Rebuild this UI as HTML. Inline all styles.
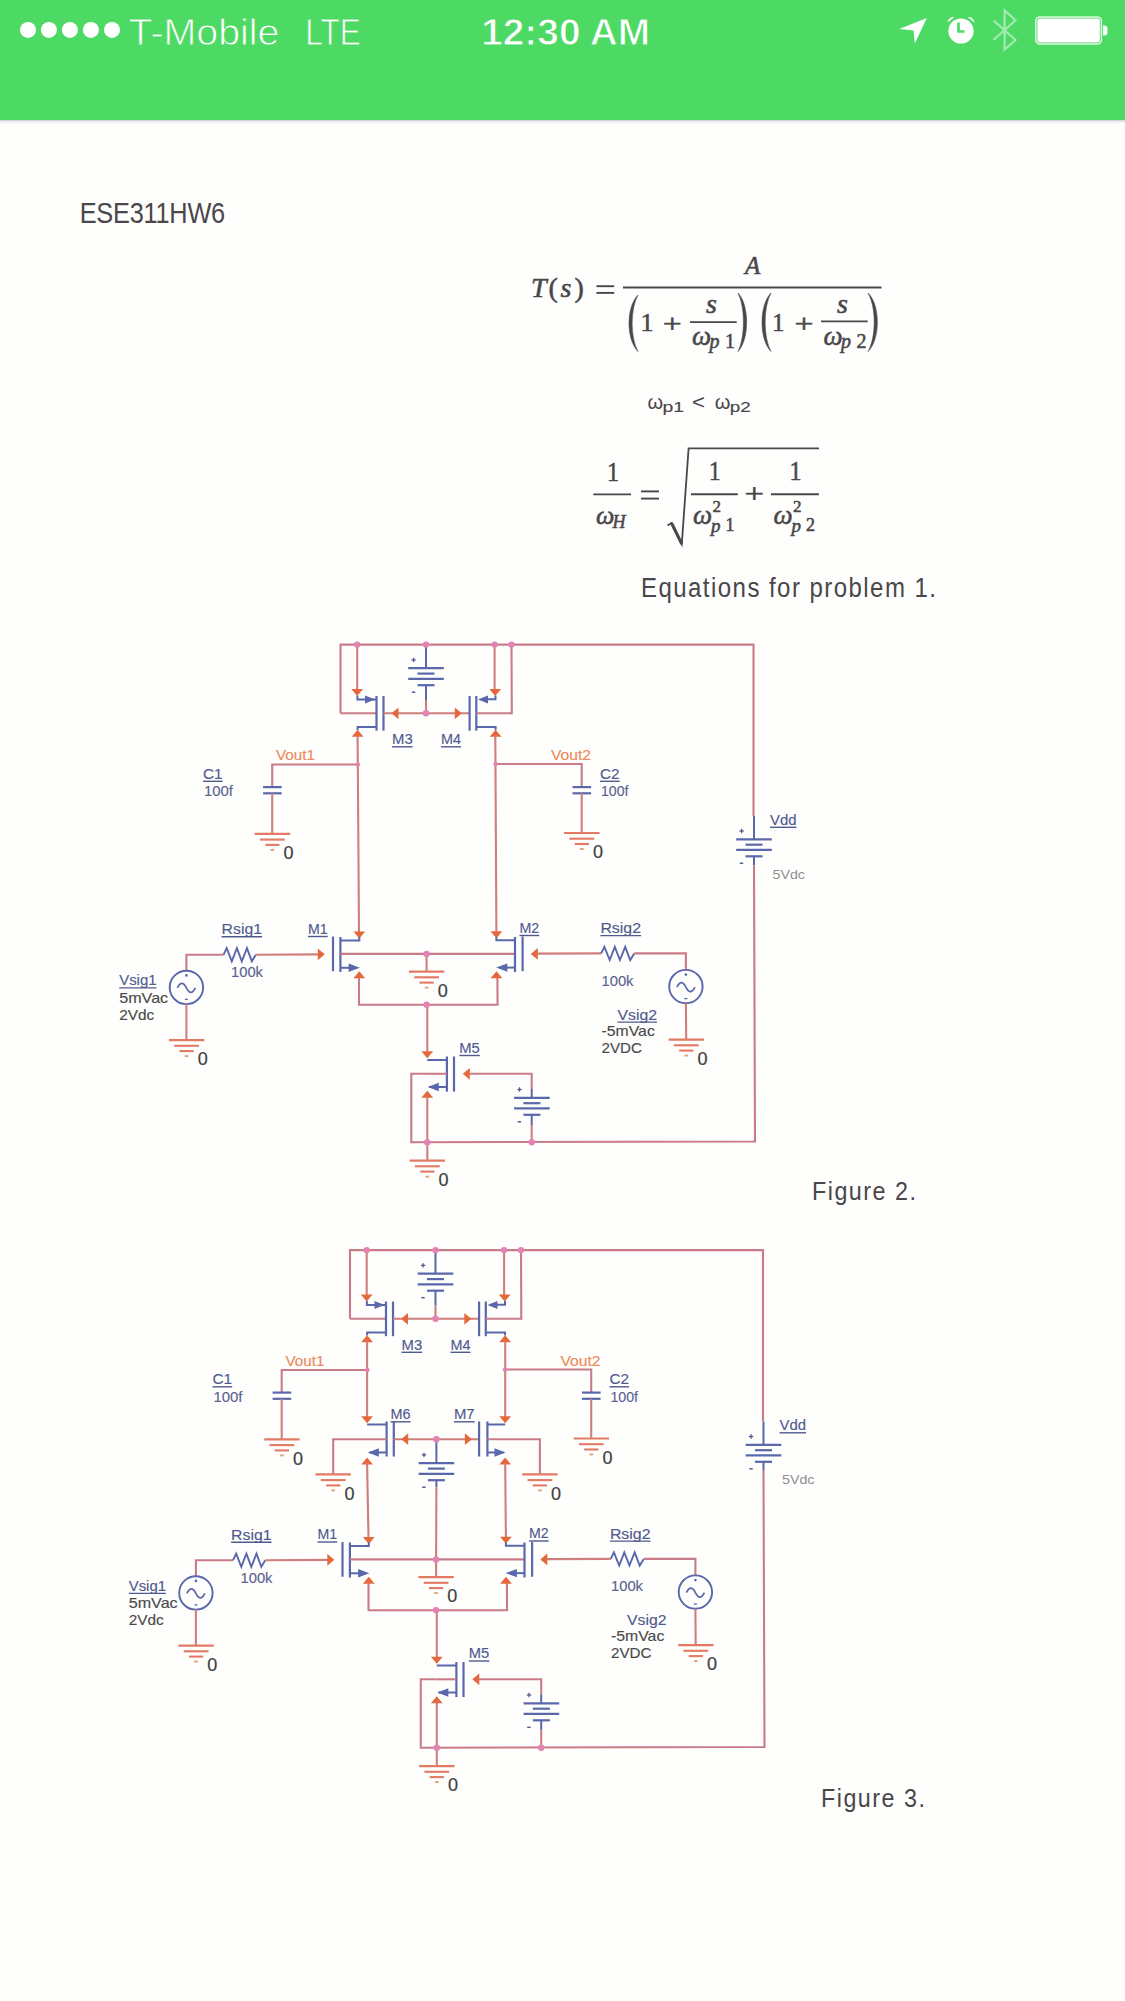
<!DOCTYPE html>
<html><head><meta charset="utf-8">
<style>
html,body{margin:0;padding:0;background:#fefefd;}
body{width:1125px;height:2001px;overflow:hidden;position:relative;font-family:"Liberation Sans",sans-serif;}
svg{position:absolute;left:0;top:0;}
</style></head><body>
<svg width="1125" height="2001" viewBox="0 0 1125 2001">
<g transform="translate(0,0)">
<polyline points="340.5,713.3 340.5,644.6 753.5,644.6 753.5,816" fill="none" stroke="#c97c88" stroke-width="2.1" stroke-linejoin="miter"/>
<line x1="754" y1="816" x2="754" y2="839.3" stroke="#5a67aa" stroke-width="2"/>
<line x1="736.2" y1="839.3" x2="771.8" y2="839.3" stroke="#5a67aa" stroke-width="2.2"/>
<line x1="745.5" y1="844.7" x2="762.5" y2="844.7" stroke="#5a67aa" stroke-width="2.2"/>
<line x1="736.2" y1="849.9" x2="771.8" y2="849.9" stroke="#5a67aa" stroke-width="2.2"/>
<line x1="745.5" y1="856.3" x2="762.5" y2="856.3" stroke="#5a67aa" stroke-width="2.2"/>
<line x1="739.4" y1="831" x2="743.8" y2="831" stroke="#4f5a8e" stroke-width="1.3"/>
<line x1="741.6" y1="828.8" x2="741.6" y2="833.2" stroke="#4f5a8e" stroke-width="1.3"/>
<line x1="739.8" y1="863.3" x2="743.2" y2="863.3" stroke="#4f5a8e" stroke-width="1.5"/>
<line x1="754" y1="856.3" x2="754" y2="865.3" stroke="#5a67aa" stroke-width="2"/>
<polyline points="754,865.3 755,1141.5 411.3,1142.2 411.3,1073.8 427,1073.8" fill="none" stroke="#c97c88" stroke-width="2.1" stroke-linejoin="miter"/>
<text x="770" y="824.7" font-family="Liberation Sans" font-size="15" fill="#4f5a8e" text-anchor="start" textLength="26.5" lengthAdjust="spacingAndGlyphs"  stroke="#4f5a8e" stroke-width="0.15">Vdd</text>
<line x1="770" y1="827.3" x2="796.5" y2="827.3" stroke="#4f5a8e" stroke-width="1.4"/>
<text x="772.5" y="878.5" font-family="Liberation Sans" font-size="13.5" fill="#8f8f8f" text-anchor="start" textLength="32.5" lengthAdjust="spacingAndGlyphs" stroke="none">5Vdc</text>
<line x1="340.5" y1="713.3" x2="376.5" y2="713.3" stroke="#c97c88" stroke-width="2.1"/>
<line x1="376.5" y1="696" x2="376.5" y2="730.7" stroke="#5a67aa" stroke-width="2.2"/>
<line x1="383.5" y1="696" x2="383.5" y2="730.7" stroke="#5a67aa" stroke-width="2.2"/>
<line x1="357.2" y1="644.6" x2="357.2" y2="691" stroke="#cf7e7c" stroke-width="2.1"/>
<polygon points="357.2,696 351.3,689 363.1,689" fill="#e5683c"/>
<polyline points="357.4,695.5 357.4,699.4 376.5,699.4" fill="none" stroke="#5a67aa" stroke-width="2" stroke-linejoin="miter"/>
<polygon points="375,699.5 365,695.5 365,703.5" fill="#5a67aa"/>
<polyline points="376.5,727 357.6,727 357.6,730" fill="none" stroke="#5a67aa" stroke-width="2" stroke-linejoin="miter"/>
<polygon points="357.6,729.7 351.7,736.7 363.5,736.7" fill="#e5683c"/>
<text x="392" y="744.2" font-family="Liberation Sans" font-size="15" fill="#4f5a8e" text-anchor="start" textLength="20.7" lengthAdjust="spacingAndGlyphs"  stroke="#4f5a8e" stroke-width="0.15">M3</text>
<line x1="392" y1="746.8" x2="412.7" y2="746.8" stroke="#4f5a8e" stroke-width="1.4"/>
<line x1="383.5" y1="713.3" x2="469.6" y2="713.3" stroke="#cf7e7c" stroke-width="2.1"/>
<polygon points="391.5,713.3 398.5,707.4 398.5,719.2" fill="#e5683c"/>
<polygon points="461.8,713.3 454.8,707.4 454.8,719.2" fill="#e5683c"/>
<line x1="426" y1="644.6" x2="426" y2="668.2" stroke="#5a67aa" stroke-width="2"/>
<line x1="408.2" y1="668.2" x2="443.8" y2="668.2" stroke="#5a67aa" stroke-width="2.2"/>
<line x1="417.5" y1="673.6" x2="434.5" y2="673.6" stroke="#5a67aa" stroke-width="2.2"/>
<line x1="408.2" y1="678.8" x2="443.8" y2="678.8" stroke="#5a67aa" stroke-width="2.2"/>
<line x1="417.5" y1="685.2" x2="434.5" y2="685.2" stroke="#5a67aa" stroke-width="2.2"/>
<line x1="411.4" y1="659.9" x2="415.8" y2="659.9" stroke="#4f5a8e" stroke-width="1.3"/>
<line x1="413.6" y1="657.7" x2="413.6" y2="662.1" stroke="#4f5a8e" stroke-width="1.3"/>
<line x1="411.8" y1="692.2" x2="415.2" y2="692.2" stroke="#4f5a8e" stroke-width="1.5"/>
<line x1="426" y1="685.2" x2="426" y2="700" stroke="#5a67aa" stroke-width="2"/>
<line x1="426" y1="700" x2="426" y2="713.3" stroke="#cf7e7c" stroke-width="2.1"/>
<line x1="469.6" y1="696" x2="469.6" y2="730.7" stroke="#5a67aa" stroke-width="2.2"/>
<line x1="476.3" y1="696" x2="476.3" y2="730.7" stroke="#5a67aa" stroke-width="2.2"/>
<line x1="494.6" y1="644.6" x2="494.6" y2="691" stroke="#cf7e7c" stroke-width="2.1"/>
<polygon points="495.2,696 489.3,689 501.1,689" fill="#e5683c"/>
<polyline points="484,699.3 495.5,699.3 495.5,695.5" fill="none" stroke="#5a67aa" stroke-width="2" stroke-linejoin="miter"/>
<polygon points="478,699.5 488,695.5 488,703.5" fill="#5a67aa"/>
<polyline points="476.3,713.3 511.8,713.3 511.5,644.6" fill="none" stroke="#c97c88" stroke-width="2.1" stroke-linejoin="miter"/>
<polyline points="476.3,727 495.6,727 495.6,730" fill="none" stroke="#5a67aa" stroke-width="2" stroke-linejoin="miter"/>
<polygon points="495.6,729.7 489.7,736.7 501.5,736.7" fill="#e5683c"/>
<text x="441" y="744.2" font-family="Liberation Sans" font-size="15" fill="#4f5a8e" text-anchor="start" textLength="20" lengthAdjust="spacingAndGlyphs"  stroke="#4f5a8e" stroke-width="0.15">M4</text>
<line x1="441" y1="746.8" x2="461" y2="746.8" stroke="#4f5a8e" stroke-width="1.4"/>
<polyline points="357.8,764.5 272.2,764.5 272.2,787.1" fill="none" stroke="#c97c88" stroke-width="2.1" stroke-linejoin="miter"/>
<line x1="263.1" y1="787.1" x2="281.7" y2="787.1" stroke="#5a67aa" stroke-width="2.2"/>
<line x1="263.1" y1="793.3" x2="281.7" y2="793.3" stroke="#5a67aa" stroke-width="2.2"/>
<line x1="272.2" y1="793.3" x2="272.2" y2="833.3" stroke="#cf7e7c" stroke-width="2.1"/>
<line x1="254.7" y1="833.9" x2="290.1" y2="833.9" stroke="#e27a64" stroke-width="2.1"/>
<line x1="260" y1="839.6" x2="284.8" y2="839.6" stroke="#e27a64" stroke-width="2.1"/>
<line x1="265.3" y1="844.9" x2="279.5" y2="844.9" stroke="#e27a64" stroke-width="2.1"/>
<line x1="270.6" y1="849.9" x2="274.2" y2="849.9" stroke="#e0a070" stroke-width="1.9"/>
<text x="283.6" y="859.1" font-family="Liberation Sans" font-size="18" fill="#3e3e3e" text-anchor="start" stroke="#3e3e3e" stroke-width="0.2">0</text>
<text x="276" y="760.2" font-family="Liberation Sans" font-size="15" fill="#ec8a5a" text-anchor="start" textLength="39" lengthAdjust="spacingAndGlyphs"  stroke="#ec8a5a" stroke-width="0.15">Vout1</text>
<text x="203" y="778.7" font-family="Liberation Sans" font-size="15" fill="#4f5a8e" text-anchor="start" textLength="19.7" lengthAdjust="spacingAndGlyphs"  stroke="#4f5a8e" stroke-width="0.15">C1</text>
<line x1="203" y1="781.3" x2="222.7" y2="781.3" stroke="#4f5a8e" stroke-width="1.4"/>
<text x="204" y="796" font-family="Liberation Sans" font-size="15" fill="#5b6290" text-anchor="start" textLength="29" lengthAdjust="spacingAndGlyphs"  stroke="#5b6290" stroke-width="0.15">100f</text>
<polyline points="495.6,764 581.7,764 581.7,787.1" fill="none" stroke="#c97c88" stroke-width="2.1" stroke-linejoin="miter"/>
<line x1="572.5" y1="787.1" x2="591.1" y2="787.1" stroke="#5a67aa" stroke-width="2.2"/>
<line x1="572.5" y1="793.3" x2="591.1" y2="793.3" stroke="#5a67aa" stroke-width="2.2"/>
<line x1="581.7" y1="793.3" x2="581.7" y2="832.4" stroke="#cf7e7c" stroke-width="2.1"/>
<line x1="564.1" y1="833" x2="599.5" y2="833" stroke="#e27a64" stroke-width="2.1"/>
<line x1="569.4" y1="838.7" x2="594.2" y2="838.7" stroke="#e27a64" stroke-width="2.1"/>
<line x1="574.7" y1="844" x2="588.9" y2="844" stroke="#e27a64" stroke-width="2.1"/>
<line x1="580" y1="849" x2="583.6" y2="849" stroke="#e0a070" stroke-width="1.9"/>
<text x="593" y="858.2" font-family="Liberation Sans" font-size="18" fill="#3e3e3e" text-anchor="start" stroke="#3e3e3e" stroke-width="0.2">0</text>
<text x="551" y="760" font-family="Liberation Sans" font-size="15" fill="#ec8a5a" text-anchor="start" textLength="40" lengthAdjust="spacingAndGlyphs"  stroke="#ec8a5a" stroke-width="0.15">Vout2</text>
<text x="600" y="778.7" font-family="Liberation Sans" font-size="15" fill="#4f5a8e" text-anchor="start" textLength="19.6" lengthAdjust="spacingAndGlyphs"  stroke="#4f5a8e" stroke-width="0.15">C2</text>
<line x1="600" y1="781.3" x2="619.6" y2="781.3" stroke="#4f5a8e" stroke-width="1.4"/>
<text x="601" y="796" font-family="Liberation Sans" font-size="15" fill="#5b6290" text-anchor="start" textLength="27.5" lengthAdjust="spacingAndGlyphs"  stroke="#5b6290" stroke-width="0.15">100f</text>
<line x1="357.6" y1="735.5" x2="359" y2="933" stroke="#cf7e7c" stroke-width="2.1"/>
<line x1="495.3" y1="735.5" x2="496.4" y2="933" stroke="#cf7e7c" stroke-width="2.1"/>
<line x1="333" y1="936.6" x2="333" y2="971.2" stroke="#5a67aa" stroke-width="2.2"/>
<line x1="340.4" y1="937" x2="340.4" y2="972" stroke="#5a67aa" stroke-width="2.2"/>
<polygon points="359.3,938.4 353.4,931.4 365.2,931.4" fill="#e5683c"/>
<polyline points="340.4,940.4 359.3,940.4 359.3,937" fill="none" stroke="#5a67aa" stroke-width="2" stroke-linejoin="miter"/>
<line x1="340.4" y1="953.9" x2="515" y2="953.9" stroke="#c97c88" stroke-width="2.1"/>
<line x1="426.6" y1="953.9" x2="426.6" y2="971" stroke="#cf7e7c" stroke-width="2.1"/>
<line x1="408.9" y1="971.6" x2="444.3" y2="971.6" stroke="#e27a64" stroke-width="2.1"/>
<line x1="414.2" y1="977.3" x2="439" y2="977.3" stroke="#e27a64" stroke-width="2.1"/>
<line x1="419.5" y1="982.6" x2="433.7" y2="982.6" stroke="#e27a64" stroke-width="2.1"/>
<line x1="424.8" y1="987.6" x2="428.4" y2="987.6" stroke="#e0a070" stroke-width="1.9"/>
<text x="437.8" y="996.8" font-family="Liberation Sans" font-size="18" fill="#3e3e3e" text-anchor="start" stroke="#3e3e3e" stroke-width="0.2">0</text>
<line x1="340.4" y1="967.8" x2="350" y2="967.8" stroke="#5a67aa" stroke-width="2"/>
<polygon points="359.8,967.8 348.6,963.6 348.6,972" fill="#5a67aa"/>
<polygon points="359.3,971.2 353.4,978.2 365.2,978.2" fill="#e5683c"/>
<polyline points="359,977.5 359,1004.8 497.6,1004.8 497.4,977.5" fill="none" stroke="#c97c88" stroke-width="2.1" stroke-linejoin="miter"/>
<text x="308" y="933.9" font-family="Liberation Sans" font-size="15" fill="#4f5a8e" text-anchor="start" textLength="19.7" lengthAdjust="spacingAndGlyphs"  stroke="#4f5a8e" stroke-width="0.15">M1</text>
<line x1="308" y1="936.5" x2="327.7" y2="936.5" stroke="#4f5a8e" stroke-width="1.4"/>
<polyline points="186.4,971 186.4,954.7 223.6,954.7" fill="none" stroke="#c97c88" stroke-width="2.1" stroke-linejoin="miter"/>
<polyline points="223.6,954.7 226.7,948.1 231.8,961.3 236.9,948.1 241.8,961.3 247,948.1 251.8,961.3 255.8,954.7" fill="none" stroke="#5a67aa" stroke-width="1.9" stroke-linejoin="miter"/>
<line x1="255.8" y1="954.7" x2="319" y2="954.4" stroke="#cf7e7c" stroke-width="2.1"/>
<polygon points="324.8,954.3 317.8,948.4 317.8,960.2" fill="#e5683c"/>
<circle cx="186.4" cy="987.4" r="16.7" fill="none" stroke="#5a67aa" stroke-width="1.9"/>
<path d="M177.4,987.9 c3,-6 6,-6 9,0 s6,6 9,0" fill="none" stroke="#5a67aa" stroke-width="1.7"/>
<circle cx="186.4" cy="975.4" r="1.3" fill="#5a67aa"/>
<line x1="184.9" y1="999.4" x2="187.9" y2="999.4" stroke="#5a67aa" stroke-width="1.3"/>
<line x1="186.4" y1="1004.1" x2="186.4" y2="1039.5" stroke="#cf7e7c" stroke-width="2.1"/>
<line x1="168.9" y1="1040.1" x2="204.3" y2="1040.1" stroke="#e27a64" stroke-width="2.1"/>
<line x1="174.2" y1="1045.8" x2="199" y2="1045.8" stroke="#e27a64" stroke-width="2.1"/>
<line x1="179.5" y1="1051.1" x2="193.7" y2="1051.1" stroke="#e27a64" stroke-width="2.1"/>
<line x1="184.8" y1="1056.1" x2="188.4" y2="1056.1" stroke="#e0a070" stroke-width="1.9"/>
<text x="197.8" y="1065.3" font-family="Liberation Sans" font-size="18" fill="#3e3e3e" text-anchor="start" stroke="#3e3e3e" stroke-width="0.2">0</text>
<text x="221.6" y="934.1" font-family="Liberation Sans" font-size="15" fill="#4f5a8e" text-anchor="start" textLength="40.4" lengthAdjust="spacingAndGlyphs"  stroke="#4f5a8e" stroke-width="0.15">Rsig1</text>
<line x1="221.6" y1="936.7" x2="262" y2="936.7" stroke="#4f5a8e" stroke-width="1.4"/>
<text x="231" y="977" font-family="Liberation Sans" font-size="15" fill="#5b6290" text-anchor="start" textLength="32" lengthAdjust="spacingAndGlyphs"  stroke="#5b6290" stroke-width="0.15">100k</text>
<text x="119.2" y="985.3" font-family="Liberation Sans" font-size="15" fill="#4f5a8e" text-anchor="start" textLength="37.3" lengthAdjust="spacingAndGlyphs"  stroke="#4f5a8e" stroke-width="0.15">Vsig1</text>
<line x1="119.2" y1="987.9" x2="156.5" y2="987.9" stroke="#4f5a8e" stroke-width="1.4"/>
<text x="119.2" y="1002.7" font-family="Liberation Sans" font-size="15" fill="#4a4a4a" text-anchor="start" textLength="49" lengthAdjust="spacingAndGlyphs"  stroke="#4a4a4a" stroke-width="0.15">5mVac</text>
<text x="119.2" y="1019.8" font-family="Liberation Sans" font-size="15" fill="#4a4a4a" text-anchor="start" textLength="35" lengthAdjust="spacingAndGlyphs"  stroke="#4a4a4a" stroke-width="0.15">2Vdc</text>
<line x1="515" y1="937" x2="515" y2="972" stroke="#5a67aa" stroke-width="2.2"/>
<line x1="522.6" y1="936.6" x2="522.6" y2="971.2" stroke="#5a67aa" stroke-width="2.2"/>
<polygon points="496.4,938.2 490.5,931.2 502.3,931.2" fill="#e5683c"/>
<polyline points="515.5,940.2 496.4,940.2 496.4,937" fill="none" stroke="#5a67aa" stroke-width="2" stroke-linejoin="miter"/>
<line x1="505" y1="967.6" x2="515" y2="967.6" stroke="#5a67aa" stroke-width="2"/>
<polygon points="496.2,967.6 507.4,963.4 507.4,971.8" fill="#5a67aa"/>
<polygon points="496.5,971.2 490.6,978.2 502.4,978.2" fill="#e5683c"/>
<text x="519.5" y="932.9" font-family="Liberation Sans" font-size="15" fill="#4f5a8e" text-anchor="start" textLength="19.7" lengthAdjust="spacingAndGlyphs"  stroke="#4f5a8e" stroke-width="0.15">M2</text>
<line x1="519.5" y1="935.5" x2="539.2" y2="935.5" stroke="#4f5a8e" stroke-width="1.4"/>
<polygon points="530.8,953.9 537.8,948 537.8,959.8" fill="#e5683c"/>
<line x1="537.5" y1="953.6" x2="601.2" y2="953.4" stroke="#cf7e7c" stroke-width="2.1"/>
<polyline points="601.2,953.4 604.4,946.8 609.7,960 614.8,946.8 619.9,960 625.2,946.8 630.2,960 634.3,953.4" fill="none" stroke="#5a67aa" stroke-width="1.9" stroke-linejoin="miter"/>
<polyline points="634.3,953.4 685.9,953.4 685.9,969.8" fill="none" stroke="#c97c88" stroke-width="2.1" stroke-linejoin="miter"/>
<circle cx="685.9" cy="986.6" r="16.7" fill="none" stroke="#5a67aa" stroke-width="1.9"/>
<path d="M676.9,987.1 c3,-6 6,-6 9,0 s6,6 9,0" fill="none" stroke="#5a67aa" stroke-width="1.7"/>
<circle cx="685.9" cy="974.6" r="1.3" fill="#5a67aa"/>
<line x1="684.4" y1="998.6" x2="687.4" y2="998.6" stroke="#5a67aa" stroke-width="1.3"/>
<line x1="685.9" y1="1003.3" x2="686.2" y2="1039" stroke="#cf7e7c" stroke-width="2.1"/>
<line x1="668.6" y1="1039.6" x2="704" y2="1039.6" stroke="#e27a64" stroke-width="2.1"/>
<line x1="673.9" y1="1045.3" x2="698.7" y2="1045.3" stroke="#e27a64" stroke-width="2.1"/>
<line x1="679.2" y1="1050.6" x2="693.4" y2="1050.6" stroke="#e27a64" stroke-width="2.1"/>
<line x1="684.5" y1="1055.6" x2="688.1" y2="1055.6" stroke="#e0a070" stroke-width="1.9"/>
<text x="697.5" y="1064.8" font-family="Liberation Sans" font-size="18" fill="#3e3e3e" text-anchor="start" stroke="#3e3e3e" stroke-width="0.2">0</text>
<text x="600.4" y="933" font-family="Liberation Sans" font-size="15" fill="#4f5a8e" text-anchor="start" textLength="40.6" lengthAdjust="spacingAndGlyphs"  stroke="#4f5a8e" stroke-width="0.15">Rsig2</text>
<line x1="600.4" y1="935.6" x2="641" y2="935.6" stroke="#4f5a8e" stroke-width="1.4"/>
<text x="601.5" y="985.5" font-family="Liberation Sans" font-size="15" fill="#5b6290" text-anchor="start" textLength="32" lengthAdjust="spacingAndGlyphs"  stroke="#5b6290" stroke-width="0.15">100k</text>
<text x="617.5" y="1019.5" font-family="Liberation Sans" font-size="15" fill="#4f5a8e" text-anchor="start" textLength="39.5" lengthAdjust="spacingAndGlyphs"  stroke="#4f5a8e" stroke-width="0.15">Vsig2</text>
<line x1="617.5" y1="1022.1" x2="657" y2="1022.1" stroke="#4f5a8e" stroke-width="1.4"/>
<text x="601.5" y="1035.8" font-family="Liberation Sans" font-size="15" fill="#4a4a4a" text-anchor="start" textLength="53.3" lengthAdjust="spacingAndGlyphs"  stroke="#4a4a4a" stroke-width="0.15">-5mVac</text>
<text x="601.5" y="1052.8" font-family="Liberation Sans" font-size="15" fill="#4a4a4a" text-anchor="start" textLength="40.5" lengthAdjust="spacingAndGlyphs"  stroke="#4a4a4a" stroke-width="0.15">2VDC</text>
<line x1="427.3" y1="1004.8" x2="427.3" y2="1052.5" stroke="#cf7e7c" stroke-width="2.1"/>
<polygon points="427.3,1058.3 421.4,1051.3 433.2,1051.3" fill="#e5683c"/>
<line x1="427.3" y1="1060" x2="446.9" y2="1060" stroke="#5a67aa" stroke-width="2"/>
<line x1="446.9" y1="1056.5" x2="446.9" y2="1091.6" stroke="#5a67aa" stroke-width="2.2"/>
<line x1="454" y1="1056.5" x2="454" y2="1091.6" stroke="#5a67aa" stroke-width="2.2"/>
<line x1="427" y1="1073.8" x2="446.9" y2="1073.8" stroke="#c97c88" stroke-width="2.1"/>
<line x1="429" y1="1087" x2="446.9" y2="1087" stroke="#5a67aa" stroke-width="2"/>
<polygon points="427.8,1087 438.8,1082.8 438.8,1091.2" fill="#5a67aa"/>
<polygon points="427.3,1090.8 421.4,1097.8 433.2,1097.8" fill="#e5683c"/>
<line x1="427.3" y1="1096.5" x2="427.3" y2="1160" stroke="#cf7e7c" stroke-width="2.1"/>
<line x1="409.6" y1="1160.6" x2="445" y2="1160.6" stroke="#e27a64" stroke-width="2.1"/>
<line x1="414.9" y1="1166.3" x2="439.7" y2="1166.3" stroke="#e27a64" stroke-width="2.1"/>
<line x1="420.2" y1="1171.6" x2="434.4" y2="1171.6" stroke="#e27a64" stroke-width="2.1"/>
<line x1="425.5" y1="1176.6" x2="429.1" y2="1176.6" stroke="#e0a070" stroke-width="1.9"/>
<text x="438.5" y="1185.8" font-family="Liberation Sans" font-size="18" fill="#3e3e3e" text-anchor="start" stroke="#3e3e3e" stroke-width="0.2">0</text>
<polygon points="462.8,1073.8 469.8,1067.9 469.8,1079.7" fill="#e5683c"/>
<polyline points="469,1073.8 531.7,1073.8 531.7,1089" fill="none" stroke="#c97c88" stroke-width="2.1" stroke-linejoin="miter"/>
<line x1="531.7" y1="1089" x2="531.7" y2="1097.8" stroke="#5a67aa" stroke-width="2"/>
<line x1="514.1" y1="1097.8" x2="549.7" y2="1097.8" stroke="#5a67aa" stroke-width="2.2"/>
<line x1="523.4" y1="1103.2" x2="540.4" y2="1103.2" stroke="#5a67aa" stroke-width="2.2"/>
<line x1="514.1" y1="1108.4" x2="549.7" y2="1108.4" stroke="#5a67aa" stroke-width="2.2"/>
<line x1="523.4" y1="1114.8" x2="540.4" y2="1114.8" stroke="#5a67aa" stroke-width="2.2"/>
<line x1="517.3" y1="1089.5" x2="521.7" y2="1089.5" stroke="#4f5a8e" stroke-width="1.3"/>
<line x1="519.5" y1="1087.3" x2="519.5" y2="1091.7" stroke="#4f5a8e" stroke-width="1.3"/>
<line x1="517.7" y1="1121.8" x2="521.1" y2="1121.8" stroke="#4f5a8e" stroke-width="1.5"/>
<line x1="531.7" y1="1114.8" x2="531.7" y2="1125" stroke="#5a67aa" stroke-width="2"/>
<line x1="531.7" y1="1125" x2="531.7" y2="1142.2" stroke="#cf7e7c" stroke-width="2.1"/>
<text x="459.3" y="1052.9" font-family="Liberation Sans" font-size="15" fill="#4f5a8e" text-anchor="start" textLength="20.5" lengthAdjust="spacingAndGlyphs"  stroke="#4f5a8e" stroke-width="0.15">M5</text>
<line x1="459.3" y1="1055.5" x2="479.8" y2="1055.5" stroke="#4f5a8e" stroke-width="1.4"/>
<circle cx="426" cy="713.3" r="3.2" fill="#e283b3"/>
<circle cx="357.2" cy="644.6" r="3.2" fill="#e283b3"/>
<circle cx="426" cy="644.6" r="3.2" fill="#e283b3"/>
<circle cx="494.6" cy="644.6" r="3.2" fill="#e283b3"/>
<circle cx="511.5" cy="644.6" r="3.2" fill="#e283b3"/>
<circle cx="357.8" cy="764.5" r="2.3" fill="#e283b3"/>
<circle cx="495.6" cy="764" r="2.3" fill="#e283b3"/>
<circle cx="426.6" cy="953.9" r="3.2" fill="#e283b3"/>
<circle cx="426.6" cy="1004.8" r="3.2" fill="#e283b3"/>
<circle cx="427.3" cy="1142.2" r="3.2" fill="#e283b3"/>
<circle cx="531.7" cy="1142.2" r="3.2" fill="#e283b3"/>
</g>
<g transform="translate(9.5,605.5)">
<polyline points="340.5,713.3 340.5,644.6 753.5,644.6 753.5,816" fill="none" stroke="#c97c88" stroke-width="2.1" stroke-linejoin="miter"/>
<line x1="754" y1="816" x2="754" y2="839.3" stroke="#5a67aa" stroke-width="2"/>
<line x1="736.2" y1="839.3" x2="771.8" y2="839.3" stroke="#5a67aa" stroke-width="2.2"/>
<line x1="745.5" y1="844.7" x2="762.5" y2="844.7" stroke="#5a67aa" stroke-width="2.2"/>
<line x1="736.2" y1="849.9" x2="771.8" y2="849.9" stroke="#5a67aa" stroke-width="2.2"/>
<line x1="745.5" y1="856.3" x2="762.5" y2="856.3" stroke="#5a67aa" stroke-width="2.2"/>
<line x1="739.4" y1="831" x2="743.8" y2="831" stroke="#4f5a8e" stroke-width="1.3"/>
<line x1="741.6" y1="828.8" x2="741.6" y2="833.2" stroke="#4f5a8e" stroke-width="1.3"/>
<line x1="739.8" y1="863.3" x2="743.2" y2="863.3" stroke="#4f5a8e" stroke-width="1.5"/>
<line x1="754" y1="856.3" x2="754" y2="865.3" stroke="#5a67aa" stroke-width="2"/>
<polyline points="754,865.3 755,1141.5 411.3,1142.2 411.3,1073.8 427,1073.8" fill="none" stroke="#c97c88" stroke-width="2.1" stroke-linejoin="miter"/>
<text x="770" y="824.7" font-family="Liberation Sans" font-size="15" fill="#4f5a8e" text-anchor="start" textLength="26.5" lengthAdjust="spacingAndGlyphs"  stroke="#4f5a8e" stroke-width="0.15">Vdd</text>
<line x1="770" y1="827.3" x2="796.5" y2="827.3" stroke="#4f5a8e" stroke-width="1.4"/>
<text x="772.5" y="878.5" font-family="Liberation Sans" font-size="13.5" fill="#8f8f8f" text-anchor="start" textLength="32.5" lengthAdjust="spacingAndGlyphs" stroke="none">5Vdc</text>
<line x1="340.5" y1="713.3" x2="376.5" y2="713.3" stroke="#c97c88" stroke-width="2.1"/>
<line x1="376.5" y1="696" x2="376.5" y2="730.7" stroke="#5a67aa" stroke-width="2.2"/>
<line x1="383.5" y1="696" x2="383.5" y2="730.7" stroke="#5a67aa" stroke-width="2.2"/>
<line x1="357.2" y1="644.6" x2="357.2" y2="691" stroke="#cf7e7c" stroke-width="2.1"/>
<polygon points="357.2,696 351.3,689 363.1,689" fill="#e5683c"/>
<polyline points="357.4,695.5 357.4,699.4 376.5,699.4" fill="none" stroke="#5a67aa" stroke-width="2" stroke-linejoin="miter"/>
<polygon points="375,699.5 365,695.5 365,703.5" fill="#5a67aa"/>
<polyline points="376.5,727 357.6,727 357.6,730" fill="none" stroke="#5a67aa" stroke-width="2" stroke-linejoin="miter"/>
<polygon points="357.6,729.7 351.7,736.7 363.5,736.7" fill="#e5683c"/>
<text x="392" y="744.2" font-family="Liberation Sans" font-size="15" fill="#4f5a8e" text-anchor="start" textLength="20.7" lengthAdjust="spacingAndGlyphs"  stroke="#4f5a8e" stroke-width="0.15">M3</text>
<line x1="392" y1="746.8" x2="412.7" y2="746.8" stroke="#4f5a8e" stroke-width="1.4"/>
<line x1="383.5" y1="713.3" x2="469.6" y2="713.3" stroke="#cf7e7c" stroke-width="2.1"/>
<polygon points="391.5,713.3 398.5,707.4 398.5,719.2" fill="#e5683c"/>
<polygon points="461.8,713.3 454.8,707.4 454.8,719.2" fill="#e5683c"/>
<line x1="426" y1="644.6" x2="426" y2="668.2" stroke="#5a67aa" stroke-width="2"/>
<line x1="408.2" y1="668.2" x2="443.8" y2="668.2" stroke="#5a67aa" stroke-width="2.2"/>
<line x1="417.5" y1="673.6" x2="434.5" y2="673.6" stroke="#5a67aa" stroke-width="2.2"/>
<line x1="408.2" y1="678.8" x2="443.8" y2="678.8" stroke="#5a67aa" stroke-width="2.2"/>
<line x1="417.5" y1="685.2" x2="434.5" y2="685.2" stroke="#5a67aa" stroke-width="2.2"/>
<line x1="411.4" y1="659.9" x2="415.8" y2="659.9" stroke="#4f5a8e" stroke-width="1.3"/>
<line x1="413.6" y1="657.7" x2="413.6" y2="662.1" stroke="#4f5a8e" stroke-width="1.3"/>
<line x1="411.8" y1="692.2" x2="415.2" y2="692.2" stroke="#4f5a8e" stroke-width="1.5"/>
<line x1="426" y1="685.2" x2="426" y2="700" stroke="#5a67aa" stroke-width="2"/>
<line x1="426" y1="700" x2="426" y2="713.3" stroke="#cf7e7c" stroke-width="2.1"/>
<line x1="469.6" y1="696" x2="469.6" y2="730.7" stroke="#5a67aa" stroke-width="2.2"/>
<line x1="476.3" y1="696" x2="476.3" y2="730.7" stroke="#5a67aa" stroke-width="2.2"/>
<line x1="494.6" y1="644.6" x2="494.6" y2="691" stroke="#cf7e7c" stroke-width="2.1"/>
<polygon points="495.2,696 489.3,689 501.1,689" fill="#e5683c"/>
<polyline points="484,699.3 495.5,699.3 495.5,695.5" fill="none" stroke="#5a67aa" stroke-width="2" stroke-linejoin="miter"/>
<polygon points="478,699.5 488,695.5 488,703.5" fill="#5a67aa"/>
<polyline points="476.3,713.3 511.8,713.3 511.5,644.6" fill="none" stroke="#c97c88" stroke-width="2.1" stroke-linejoin="miter"/>
<polyline points="476.3,727 495.6,727 495.6,730" fill="none" stroke="#5a67aa" stroke-width="2" stroke-linejoin="miter"/>
<polygon points="495.6,729.7 489.7,736.7 501.5,736.7" fill="#e5683c"/>
<text x="441" y="744.2" font-family="Liberation Sans" font-size="15" fill="#4f5a8e" text-anchor="start" textLength="20" lengthAdjust="spacingAndGlyphs"  stroke="#4f5a8e" stroke-width="0.15">M4</text>
<line x1="441" y1="746.8" x2="461" y2="746.8" stroke="#4f5a8e" stroke-width="1.4"/>
<polyline points="357.8,764.5 272.2,764.5 272.2,787.1" fill="none" stroke="#c97c88" stroke-width="2.1" stroke-linejoin="miter"/>
<line x1="263.1" y1="787.1" x2="281.7" y2="787.1" stroke="#5a67aa" stroke-width="2.2"/>
<line x1="263.1" y1="793.3" x2="281.7" y2="793.3" stroke="#5a67aa" stroke-width="2.2"/>
<line x1="272.2" y1="793.3" x2="272.2" y2="833.3" stroke="#cf7e7c" stroke-width="2.1"/>
<line x1="254.7" y1="833.9" x2="290.1" y2="833.9" stroke="#e27a64" stroke-width="2.1"/>
<line x1="260" y1="839.6" x2="284.8" y2="839.6" stroke="#e27a64" stroke-width="2.1"/>
<line x1="265.3" y1="844.9" x2="279.5" y2="844.9" stroke="#e27a64" stroke-width="2.1"/>
<line x1="270.6" y1="849.9" x2="274.2" y2="849.9" stroke="#e0a070" stroke-width="1.9"/>
<text x="283.6" y="859.1" font-family="Liberation Sans" font-size="18" fill="#3e3e3e" text-anchor="start" stroke="#3e3e3e" stroke-width="0.2">0</text>
<text x="276" y="760.2" font-family="Liberation Sans" font-size="15" fill="#ec8a5a" text-anchor="start" textLength="39" lengthAdjust="spacingAndGlyphs"  stroke="#ec8a5a" stroke-width="0.15">Vout1</text>
<text x="203" y="778.7" font-family="Liberation Sans" font-size="15" fill="#4f5a8e" text-anchor="start" textLength="19.7" lengthAdjust="spacingAndGlyphs"  stroke="#4f5a8e" stroke-width="0.15">C1</text>
<line x1="203" y1="781.3" x2="222.7" y2="781.3" stroke="#4f5a8e" stroke-width="1.4"/>
<text x="204" y="796" font-family="Liberation Sans" font-size="15" fill="#5b6290" text-anchor="start" textLength="29" lengthAdjust="spacingAndGlyphs"  stroke="#5b6290" stroke-width="0.15">100f</text>
<polyline points="495.6,764 581.7,764 581.7,787.1" fill="none" stroke="#c97c88" stroke-width="2.1" stroke-linejoin="miter"/>
<line x1="572.5" y1="787.1" x2="591.1" y2="787.1" stroke="#5a67aa" stroke-width="2.2"/>
<line x1="572.5" y1="793.3" x2="591.1" y2="793.3" stroke="#5a67aa" stroke-width="2.2"/>
<line x1="581.7" y1="793.3" x2="581.7" y2="832.4" stroke="#cf7e7c" stroke-width="2.1"/>
<line x1="564.1" y1="833" x2="599.5" y2="833" stroke="#e27a64" stroke-width="2.1"/>
<line x1="569.4" y1="838.7" x2="594.2" y2="838.7" stroke="#e27a64" stroke-width="2.1"/>
<line x1="574.7" y1="844" x2="588.9" y2="844" stroke="#e27a64" stroke-width="2.1"/>
<line x1="580" y1="849" x2="583.6" y2="849" stroke="#e0a070" stroke-width="1.9"/>
<text x="593" y="858.2" font-family="Liberation Sans" font-size="18" fill="#3e3e3e" text-anchor="start" stroke="#3e3e3e" stroke-width="0.2">0</text>
<text x="551" y="760" font-family="Liberation Sans" font-size="15" fill="#ec8a5a" text-anchor="start" textLength="40" lengthAdjust="spacingAndGlyphs"  stroke="#ec8a5a" stroke-width="0.15">Vout2</text>
<text x="600" y="778.7" font-family="Liberation Sans" font-size="15" fill="#4f5a8e" text-anchor="start" textLength="19.6" lengthAdjust="spacingAndGlyphs"  stroke="#4f5a8e" stroke-width="0.15">C2</text>
<line x1="600" y1="781.3" x2="619.6" y2="781.3" stroke="#4f5a8e" stroke-width="1.4"/>
<text x="601" y="796" font-family="Liberation Sans" font-size="15" fill="#5b6290" text-anchor="start" textLength="27.5" lengthAdjust="spacingAndGlyphs"  stroke="#5b6290" stroke-width="0.15">100f</text>
<line x1="357.6" y1="735.5" x2="357.6" y2="811.5" stroke="#cf7e7c" stroke-width="2.1"/>
<polygon points="357.6,817.7 351.7,810.7 363.5,810.7" fill="#e5683c"/>
<line x1="357.6" y1="819" x2="377.1" y2="819" stroke="#5a67aa" stroke-width="2"/>
<line x1="377.1" y1="816" x2="377.1" y2="851" stroke="#5a67aa" stroke-width="2.2"/>
<line x1="384.3" y1="816" x2="384.3" y2="851" stroke="#5a67aa" stroke-width="2.2"/>
<polyline points="377.1,833.7 323.7,833.7 323.7,868.3" fill="none" stroke="#c97c88" stroke-width="2.1" stroke-linejoin="miter"/>
<line x1="306" y1="868.9" x2="341.4" y2="868.9" stroke="#e27a64" stroke-width="2.1"/>
<line x1="311.3" y1="874.6" x2="336.1" y2="874.6" stroke="#e27a64" stroke-width="2.1"/>
<line x1="316.6" y1="879.9" x2="330.8" y2="879.9" stroke="#e27a64" stroke-width="2.1"/>
<line x1="321.9" y1="884.9" x2="325.5" y2="884.9" stroke="#e0a070" stroke-width="1.9"/>
<text x="334.9" y="894.1" font-family="Liberation Sans" font-size="18" fill="#3e3e3e" text-anchor="start" stroke="#3e3e3e" stroke-width="0.2">0</text>
<line x1="360" y1="847" x2="377.1" y2="847" stroke="#5a67aa" stroke-width="2"/>
<polygon points="358.4,847 369.4,842.8 369.4,851.2" fill="#5a67aa"/>
<polygon points="357.6,852 351.7,859 363.5,859" fill="#e5683c"/>
<line x1="357.6" y1="857.5" x2="359" y2="933" stroke="#cf7e7c" stroke-width="2.1"/>
<line x1="384.3" y1="833.7" x2="469.6" y2="833.7" stroke="#cf7e7c" stroke-width="2.1"/>
<polygon points="391.7,833.7 398.7,827.8 398.7,839.6" fill="#e5683c"/>
<polygon points="462.4,833.7 455.4,827.8 455.4,839.6" fill="#e5683c"/>
<line x1="426.9" y1="833.7" x2="426.9" y2="857.7" stroke="#5a67aa" stroke-width="2"/>
<line x1="409.1" y1="857.7" x2="444.7" y2="857.7" stroke="#5a67aa" stroke-width="2.2"/>
<line x1="418.4" y1="863.1" x2="435.4" y2="863.1" stroke="#5a67aa" stroke-width="2.2"/>
<line x1="409.1" y1="868.3" x2="444.7" y2="868.3" stroke="#5a67aa" stroke-width="2.2"/>
<line x1="418.4" y1="874.7" x2="435.4" y2="874.7" stroke="#5a67aa" stroke-width="2.2"/>
<line x1="412.3" y1="849.4" x2="416.7" y2="849.4" stroke="#4f5a8e" stroke-width="1.3"/>
<line x1="414.5" y1="847.2" x2="414.5" y2="851.6" stroke="#4f5a8e" stroke-width="1.3"/>
<line x1="412.7" y1="881.7" x2="416.1" y2="881.7" stroke="#4f5a8e" stroke-width="1.5"/>
<line x1="426.9" y1="874.7" x2="426.9" y2="881.7" stroke="#5a67aa" stroke-width="2"/>
<line x1="426.9" y1="881.7" x2="426.6" y2="953.4" stroke="#cf7e7c" stroke-width="2.1"/>
<line x1="469.6" y1="816" x2="469.6" y2="851" stroke="#5a67aa" stroke-width="2.2"/>
<line x1="477.9" y1="816" x2="477.9" y2="851" stroke="#5a67aa" stroke-width="2.2"/>
<line x1="495.7" y1="735.5" x2="495.7" y2="811.5" stroke="#cf7e7c" stroke-width="2.1"/>
<polygon points="495.7,817.7 489.8,810.7 501.6,810.7" fill="#e5683c"/>
<line x1="477.9" y1="819" x2="495.7" y2="819" stroke="#5a67aa" stroke-width="2"/>
<polyline points="477.9,833.7 530.4,833.7 530.4,868.3" fill="none" stroke="#c97c88" stroke-width="2.1" stroke-linejoin="miter"/>
<line x1="512.7" y1="868.9" x2="548.1" y2="868.9" stroke="#e27a64" stroke-width="2.1"/>
<line x1="518" y1="874.6" x2="542.8" y2="874.6" stroke="#e27a64" stroke-width="2.1"/>
<line x1="523.3" y1="879.9" x2="537.5" y2="879.9" stroke="#e27a64" stroke-width="2.1"/>
<line x1="528.6" y1="884.9" x2="532.2" y2="884.9" stroke="#e0a070" stroke-width="1.9"/>
<text x="541.6" y="894.1" font-family="Liberation Sans" font-size="18" fill="#3e3e3e" text-anchor="start" stroke="#3e3e3e" stroke-width="0.2">0</text>
<line x1="477.9" y1="847" x2="494" y2="847" stroke="#5a67aa" stroke-width="2"/>
<polygon points="496,847 485,842.8 485,851.2" fill="#5a67aa"/>
<polygon points="495.7,852 489.8,859 501.6,859" fill="#e5683c"/>
<line x1="495.7" y1="857.5" x2="496.4" y2="933" stroke="#cf7e7c" stroke-width="2.1"/>
<text x="381.1" y="813.7" font-family="Liberation Sans" font-size="15" fill="#4f5a8e" text-anchor="start" textLength="20" lengthAdjust="spacingAndGlyphs"  stroke="#4f5a8e" stroke-width="0.15">M6</text>
<line x1="381.1" y1="816.3" x2="401.1" y2="816.3" stroke="#4f5a8e" stroke-width="1.4"/>
<text x="444.4" y="813.7" font-family="Liberation Sans" font-size="15" fill="#4f5a8e" text-anchor="start" textLength="20.7" lengthAdjust="spacingAndGlyphs"  stroke="#4f5a8e" stroke-width="0.15">M7</text>
<line x1="444.4" y1="816.3" x2="465.1" y2="816.3" stroke="#4f5a8e" stroke-width="1.4"/>
<line x1="333" y1="936.6" x2="333" y2="971.2" stroke="#5a67aa" stroke-width="2.2"/>
<line x1="340.4" y1="937" x2="340.4" y2="972" stroke="#5a67aa" stroke-width="2.2"/>
<polygon points="359.3,938.4 353.4,931.4 365.2,931.4" fill="#e5683c"/>
<polyline points="340.4,940.4 359.3,940.4 359.3,937" fill="none" stroke="#5a67aa" stroke-width="2" stroke-linejoin="miter"/>
<line x1="340.4" y1="953.9" x2="515" y2="953.9" stroke="#c97c88" stroke-width="2.1"/>
<line x1="426.6" y1="953.9" x2="426.6" y2="971" stroke="#cf7e7c" stroke-width="2.1"/>
<line x1="408.9" y1="971.6" x2="444.3" y2="971.6" stroke="#e27a64" stroke-width="2.1"/>
<line x1="414.2" y1="977.3" x2="439" y2="977.3" stroke="#e27a64" stroke-width="2.1"/>
<line x1="419.5" y1="982.6" x2="433.7" y2="982.6" stroke="#e27a64" stroke-width="2.1"/>
<line x1="424.8" y1="987.6" x2="428.4" y2="987.6" stroke="#e0a070" stroke-width="1.9"/>
<text x="437.8" y="996.8" font-family="Liberation Sans" font-size="18" fill="#3e3e3e" text-anchor="start" stroke="#3e3e3e" stroke-width="0.2">0</text>
<line x1="340.4" y1="967.8" x2="350" y2="967.8" stroke="#5a67aa" stroke-width="2"/>
<polygon points="359.8,967.8 348.6,963.6 348.6,972" fill="#5a67aa"/>
<polygon points="359.3,971.2 353.4,978.2 365.2,978.2" fill="#e5683c"/>
<polyline points="359,977.5 359,1004.8 497.6,1004.8 497.4,977.5" fill="none" stroke="#c97c88" stroke-width="2.1" stroke-linejoin="miter"/>
<text x="308" y="933.9" font-family="Liberation Sans" font-size="15" fill="#4f5a8e" text-anchor="start" textLength="19.7" lengthAdjust="spacingAndGlyphs"  stroke="#4f5a8e" stroke-width="0.15">M1</text>
<line x1="308" y1="936.5" x2="327.7" y2="936.5" stroke="#4f5a8e" stroke-width="1.4"/>
<polyline points="186.4,971 186.4,954.7 223.6,954.7" fill="none" stroke="#c97c88" stroke-width="2.1" stroke-linejoin="miter"/>
<polyline points="223.6,954.7 226.7,948.1 231.8,961.3 236.9,948.1 241.8,961.3 247,948.1 251.8,961.3 255.8,954.7" fill="none" stroke="#5a67aa" stroke-width="1.9" stroke-linejoin="miter"/>
<line x1="255.8" y1="954.7" x2="319" y2="954.4" stroke="#cf7e7c" stroke-width="2.1"/>
<polygon points="324.8,954.3 317.8,948.4 317.8,960.2" fill="#e5683c"/>
<circle cx="186.4" cy="987.4" r="16.7" fill="none" stroke="#5a67aa" stroke-width="1.9"/>
<path d="M177.4,987.9 c3,-6 6,-6 9,0 s6,6 9,0" fill="none" stroke="#5a67aa" stroke-width="1.7"/>
<circle cx="186.4" cy="975.4" r="1.3" fill="#5a67aa"/>
<line x1="184.9" y1="999.4" x2="187.9" y2="999.4" stroke="#5a67aa" stroke-width="1.3"/>
<line x1="186.4" y1="1004.1" x2="186.4" y2="1039.5" stroke="#cf7e7c" stroke-width="2.1"/>
<line x1="168.9" y1="1040.1" x2="204.3" y2="1040.1" stroke="#e27a64" stroke-width="2.1"/>
<line x1="174.2" y1="1045.8" x2="199" y2="1045.8" stroke="#e27a64" stroke-width="2.1"/>
<line x1="179.5" y1="1051.1" x2="193.7" y2="1051.1" stroke="#e27a64" stroke-width="2.1"/>
<line x1="184.8" y1="1056.1" x2="188.4" y2="1056.1" stroke="#e0a070" stroke-width="1.9"/>
<text x="197.8" y="1065.3" font-family="Liberation Sans" font-size="18" fill="#3e3e3e" text-anchor="start" stroke="#3e3e3e" stroke-width="0.2">0</text>
<text x="221.6" y="934.1" font-family="Liberation Sans" font-size="15" fill="#4f5a8e" text-anchor="start" textLength="40.4" lengthAdjust="spacingAndGlyphs"  stroke="#4f5a8e" stroke-width="0.15">Rsig1</text>
<line x1="221.6" y1="936.7" x2="262" y2="936.7" stroke="#4f5a8e" stroke-width="1.4"/>
<text x="231" y="977" font-family="Liberation Sans" font-size="15" fill="#5b6290" text-anchor="start" textLength="32" lengthAdjust="spacingAndGlyphs"  stroke="#5b6290" stroke-width="0.15">100k</text>
<text x="119.2" y="985.3" font-family="Liberation Sans" font-size="15" fill="#4f5a8e" text-anchor="start" textLength="37.3" lengthAdjust="spacingAndGlyphs"  stroke="#4f5a8e" stroke-width="0.15">Vsig1</text>
<line x1="119.2" y1="987.9" x2="156.5" y2="987.9" stroke="#4f5a8e" stroke-width="1.4"/>
<text x="119.2" y="1002.7" font-family="Liberation Sans" font-size="15" fill="#4a4a4a" text-anchor="start" textLength="49" lengthAdjust="spacingAndGlyphs"  stroke="#4a4a4a" stroke-width="0.15">5mVac</text>
<text x="119.2" y="1019.8" font-family="Liberation Sans" font-size="15" fill="#4a4a4a" text-anchor="start" textLength="35" lengthAdjust="spacingAndGlyphs"  stroke="#4a4a4a" stroke-width="0.15">2Vdc</text>
<line x1="515" y1="937" x2="515" y2="972" stroke="#5a67aa" stroke-width="2.2"/>
<line x1="522.6" y1="936.6" x2="522.6" y2="971.2" stroke="#5a67aa" stroke-width="2.2"/>
<polygon points="496.4,938.2 490.5,931.2 502.3,931.2" fill="#e5683c"/>
<polyline points="515.5,940.2 496.4,940.2 496.4,937" fill="none" stroke="#5a67aa" stroke-width="2" stroke-linejoin="miter"/>
<line x1="505" y1="967.6" x2="515" y2="967.6" stroke="#5a67aa" stroke-width="2"/>
<polygon points="496.2,967.6 507.4,963.4 507.4,971.8" fill="#5a67aa"/>
<polygon points="496.5,971.2 490.6,978.2 502.4,978.2" fill="#e5683c"/>
<text x="519.5" y="932.9" font-family="Liberation Sans" font-size="15" fill="#4f5a8e" text-anchor="start" textLength="19.7" lengthAdjust="spacingAndGlyphs"  stroke="#4f5a8e" stroke-width="0.15">M2</text>
<line x1="519.5" y1="935.5" x2="539.2" y2="935.5" stroke="#4f5a8e" stroke-width="1.4"/>
<polygon points="530.8,953.9 537.8,948 537.8,959.8" fill="#e5683c"/>
<line x1="537.5" y1="953.6" x2="601.2" y2="953.4" stroke="#cf7e7c" stroke-width="2.1"/>
<polyline points="601.2,953.4 604.4,946.8 609.7,960 614.8,946.8 619.9,960 625.2,946.8 630.2,960 634.3,953.4" fill="none" stroke="#5a67aa" stroke-width="1.9" stroke-linejoin="miter"/>
<polyline points="634.3,953.4 685.9,953.4 685.9,969.8" fill="none" stroke="#c97c88" stroke-width="2.1" stroke-linejoin="miter"/>
<circle cx="685.9" cy="986.6" r="16.7" fill="none" stroke="#5a67aa" stroke-width="1.9"/>
<path d="M676.9,987.1 c3,-6 6,-6 9,0 s6,6 9,0" fill="none" stroke="#5a67aa" stroke-width="1.7"/>
<circle cx="685.9" cy="974.6" r="1.3" fill="#5a67aa"/>
<line x1="684.4" y1="998.6" x2="687.4" y2="998.6" stroke="#5a67aa" stroke-width="1.3"/>
<line x1="685.9" y1="1003.3" x2="686.2" y2="1039" stroke="#cf7e7c" stroke-width="2.1"/>
<line x1="668.6" y1="1039.6" x2="704" y2="1039.6" stroke="#e27a64" stroke-width="2.1"/>
<line x1="673.9" y1="1045.3" x2="698.7" y2="1045.3" stroke="#e27a64" stroke-width="2.1"/>
<line x1="679.2" y1="1050.6" x2="693.4" y2="1050.6" stroke="#e27a64" stroke-width="2.1"/>
<line x1="684.5" y1="1055.6" x2="688.1" y2="1055.6" stroke="#e0a070" stroke-width="1.9"/>
<text x="697.5" y="1064.8" font-family="Liberation Sans" font-size="18" fill="#3e3e3e" text-anchor="start" stroke="#3e3e3e" stroke-width="0.2">0</text>
<text x="600.4" y="933" font-family="Liberation Sans" font-size="15" fill="#4f5a8e" text-anchor="start" textLength="40.6" lengthAdjust="spacingAndGlyphs"  stroke="#4f5a8e" stroke-width="0.15">Rsig2</text>
<line x1="600.4" y1="935.6" x2="641" y2="935.6" stroke="#4f5a8e" stroke-width="1.4"/>
<text x="601.5" y="985.5" font-family="Liberation Sans" font-size="15" fill="#5b6290" text-anchor="start" textLength="32" lengthAdjust="spacingAndGlyphs"  stroke="#5b6290" stroke-width="0.15">100k</text>
<text x="617.5" y="1019.5" font-family="Liberation Sans" font-size="15" fill="#4f5a8e" text-anchor="start" textLength="39.5" lengthAdjust="spacingAndGlyphs"  stroke="#4f5a8e" stroke-width="0.15">Vsig2</text>
<text x="601.5" y="1035.8" font-family="Liberation Sans" font-size="15" fill="#4a4a4a" text-anchor="start" textLength="53.3" lengthAdjust="spacingAndGlyphs"  stroke="#4a4a4a" stroke-width="0.15">-5mVac</text>
<text x="601.5" y="1052.8" font-family="Liberation Sans" font-size="15" fill="#4a4a4a" text-anchor="start" textLength="40.5" lengthAdjust="spacingAndGlyphs"  stroke="#4a4a4a" stroke-width="0.15">2VDC</text>
<line x1="427.3" y1="1004.8" x2="427.3" y2="1052.5" stroke="#cf7e7c" stroke-width="2.1"/>
<polygon points="427.3,1058.3 421.4,1051.3 433.2,1051.3" fill="#e5683c"/>
<line x1="427.3" y1="1060" x2="446.9" y2="1060" stroke="#5a67aa" stroke-width="2"/>
<line x1="446.9" y1="1056.5" x2="446.9" y2="1091.6" stroke="#5a67aa" stroke-width="2.2"/>
<line x1="454" y1="1056.5" x2="454" y2="1091.6" stroke="#5a67aa" stroke-width="2.2"/>
<line x1="427" y1="1073.8" x2="446.9" y2="1073.8" stroke="#c97c88" stroke-width="2.1"/>
<line x1="429" y1="1087" x2="446.9" y2="1087" stroke="#5a67aa" stroke-width="2"/>
<polygon points="427.8,1087 438.8,1082.8 438.8,1091.2" fill="#5a67aa"/>
<polygon points="427.3,1090.8 421.4,1097.8 433.2,1097.8" fill="#e5683c"/>
<line x1="427.3" y1="1096.5" x2="427.3" y2="1160" stroke="#cf7e7c" stroke-width="2.1"/>
<line x1="409.6" y1="1160.6" x2="445" y2="1160.6" stroke="#e27a64" stroke-width="2.1"/>
<line x1="414.9" y1="1166.3" x2="439.7" y2="1166.3" stroke="#e27a64" stroke-width="2.1"/>
<line x1="420.2" y1="1171.6" x2="434.4" y2="1171.6" stroke="#e27a64" stroke-width="2.1"/>
<line x1="425.5" y1="1176.6" x2="429.1" y2="1176.6" stroke="#e0a070" stroke-width="1.9"/>
<text x="438.5" y="1185.8" font-family="Liberation Sans" font-size="18" fill="#3e3e3e" text-anchor="start" stroke="#3e3e3e" stroke-width="0.2">0</text>
<polygon points="462.8,1073.8 469.8,1067.9 469.8,1079.7" fill="#e5683c"/>
<polyline points="469,1073.8 531.7,1073.8 531.7,1089" fill="none" stroke="#c97c88" stroke-width="2.1" stroke-linejoin="miter"/>
<line x1="531.7" y1="1089" x2="531.7" y2="1097.8" stroke="#5a67aa" stroke-width="2"/>
<line x1="514.1" y1="1097.8" x2="549.7" y2="1097.8" stroke="#5a67aa" stroke-width="2.2"/>
<line x1="523.4" y1="1103.2" x2="540.4" y2="1103.2" stroke="#5a67aa" stroke-width="2.2"/>
<line x1="514.1" y1="1108.4" x2="549.7" y2="1108.4" stroke="#5a67aa" stroke-width="2.2"/>
<line x1="523.4" y1="1114.8" x2="540.4" y2="1114.8" stroke="#5a67aa" stroke-width="2.2"/>
<line x1="517.3" y1="1089.5" x2="521.7" y2="1089.5" stroke="#4f5a8e" stroke-width="1.3"/>
<line x1="519.5" y1="1087.3" x2="519.5" y2="1091.7" stroke="#4f5a8e" stroke-width="1.3"/>
<line x1="517.7" y1="1121.8" x2="521.1" y2="1121.8" stroke="#4f5a8e" stroke-width="1.5"/>
<line x1="531.7" y1="1114.8" x2="531.7" y2="1125" stroke="#5a67aa" stroke-width="2"/>
<line x1="531.7" y1="1125" x2="531.7" y2="1142.2" stroke="#cf7e7c" stroke-width="2.1"/>
<text x="459.3" y="1052.9" font-family="Liberation Sans" font-size="15" fill="#4f5a8e" text-anchor="start" textLength="20.5" lengthAdjust="spacingAndGlyphs"  stroke="#4f5a8e" stroke-width="0.15">M5</text>
<line x1="459.3" y1="1055.5" x2="479.8" y2="1055.5" stroke="#4f5a8e" stroke-width="1.4"/>
<circle cx="426" cy="713.3" r="3.2" fill="#e283b3"/>
<circle cx="357.2" cy="644.6" r="3.2" fill="#e283b3"/>
<circle cx="426" cy="644.6" r="3.2" fill="#e283b3"/>
<circle cx="494.6" cy="644.6" r="3.2" fill="#e283b3"/>
<circle cx="511.5" cy="644.6" r="3.2" fill="#e283b3"/>
<circle cx="357.8" cy="764.5" r="2.3" fill="#e283b3"/>
<circle cx="495.6" cy="764" r="2.3" fill="#e283b3"/>
<circle cx="426.9" cy="833.7" r="3.2" fill="#e283b3"/>
<circle cx="426.6" cy="953.9" r="3.2" fill="#e283b3"/>
<circle cx="426.6" cy="1004.8" r="3.2" fill="#e283b3"/>
<circle cx="427.3" cy="1142.2" r="3.2" fill="#e283b3"/>
<circle cx="531.7" cy="1142.2" r="3.2" fill="#e283b3"/>
</g>
<rect x="0" y="0" width="1125" height="120" fill="#4cd964"/>
<rect x="0" y="120" width="1125" height="1.3" fill="#d4d3da"/>
<rect x="0" y="121.3" width="1125" height="1.6" fill="#ebeff3"/>
<circle cx="28" cy="29.9" r="8" fill="#fff"/>
<circle cx="48.9" cy="29.9" r="8" fill="#fff"/>
<circle cx="69.9" cy="29.9" r="8" fill="#fff"/>
<circle cx="90.9" cy="29.9" r="8" fill="#fff"/>
<circle cx="112" cy="29.9" r="8" fill="#fff"/>
<text x="128.5" y="45" font-family="Liberation Sans" font-size="36" fill="#fff" text-anchor="start" textLength="151" lengthAdjust="spacingAndGlyphs" stroke="#4cd964" stroke-width="0.8">T-Mobile</text>
<text x="305.2" y="45.2" font-family="Liberation Sans" font-size="36" fill="#fff" text-anchor="start" textLength="55.5" lengthAdjust="spacingAndGlyphs" stroke="#4cd964" stroke-width="0.8">LTE</text>
<text x="481.2" y="45.2" font-family="Liberation Sans" font-size="36" fill="#fff" text-anchor="start" textLength="169" lengthAdjust="spacingAndGlyphs" font-weight="bold" stroke="#4cd964" stroke-width="0.9">12:30 AM</text>
<polygon points="926.8,17.9 899.2,28.9 913.6,30.6 914.8,43.6" fill="#fff"/>
<circle cx="961" cy="31" r="12.6" fill="#fff"/>
<path d="M947.5,22.5 a6,6 0 0 1 7,-5.5 z M974.5,22.5 a6,6 0 0 0 -7,-5.5 z" fill="#fff"/>
<polyline points="958.5,22.5 958.5,31.5 964.5,31.5" fill="none" stroke="#4cd964" stroke-width="2.6"/>
<polyline points="993.5,20.5 1015.5,40 1004.6,49.5 1004.6,10.5 1015.5,20.3 993.5,40" fill="none" stroke="#a3ebb0" stroke-width="2.2" stroke-linejoin="miter"/>
<rect x="1035.8" y="17" width="65.6" height="27" rx="4" ry="4" fill="none" stroke="#dcf6df" stroke-width="1.6"/>
<rect x="1037.4" y="18.6" width="62.4" height="23.8" rx="2.5" fill="#fff"/>
<path d="M1103,25.5 h1.5 a3,3 0 0 1 3,3 v4 a3,3 0 0 1 -3,3 h-1.5 z" fill="#f4fdf5"/>
<text transform="translate(79.7,222.9) scale(0.88,1)" x="0" y="0" font-family="Liberation Sans" font-size="28.8" fill="#4a4649" textLength="165.3" lengthAdjust="spacing" >ESE311HW6</text>
<text transform="translate(641,596.6) scale(0.88,1)" x="0" y="0" font-family="Liberation Sans" font-size="27.3" fill="#4a4649" textLength="335.2" lengthAdjust="spacing" >Equations for problem 1.</text>
<text transform="translate(812,1199.5) scale(0.88,1)" x="0" y="0" font-family="Liberation Sans" font-size="26.5" fill="#4a4649" textLength="118.2" lengthAdjust="spacing" >Figure 2.</text>
<text transform="translate(821,1806.6) scale(0.88,1)" x="0" y="0" font-family="Liberation Sans" font-size="26.5" fill="#4a4649" textLength="118.2" lengthAdjust="spacing" >Figure 3.</text>
<text x="531" y="297.4" font-family="Liberation Serif" font-size="28" fill="#4a4649" text-anchor="start" font-style="italic" stroke="#4a4649" stroke-width="0.55">T</text>
<text x="548.5" y="297.4" font-family="Liberation Serif" font-size="28" fill="#4a4649" text-anchor="start"  stroke="#4a4649" stroke-width="0.55">(</text>
<text x="560.5" y="297.4" font-family="Liberation Serif" font-size="28" fill="#4a4649" text-anchor="start" font-style="italic" stroke="#4a4649" stroke-width="0.55">s</text>
<text x="574.5" y="297.4" font-family="Liberation Serif" font-size="28" fill="#4a4649" text-anchor="start"  stroke="#4a4649" stroke-width="0.55">)</text>
<line x1="596.4" y1="286.2" x2="614.2" y2="286.2" stroke="#4a4649" stroke-width="1.9"/>
<line x1="596.4" y1="292.9" x2="614.2" y2="292.9" stroke="#4a4649" stroke-width="1.9"/>
<line x1="623" y1="287.5" x2="881.5" y2="287.5" stroke="#4a4649" stroke-width="2"/>
<text x="745" y="274.3" font-family="Liberation Serif" font-size="25" fill="#4a4649" text-anchor="start" font-style="italic" stroke="#4a4649" stroke-width="0.55">A</text>
<path d="M638,295 C626,307 626,339.5 638,351.5 C630.2,337.5 630.2,309 638,295 Z" fill="#4a4649" stroke="#4a4649" stroke-width="0.6"/>
<path d="M738,293 C749.5,305 749.5,339.5 738,351.5 C745.3,337.5 745.3,307 738,293 Z" fill="#4a4649" stroke="#4a4649" stroke-width="0.6"/>
<path d="M771,293 C759,305 759,339.5 771,351.5 C763.2,337.5 763.2,307 771,293 Z" fill="#4a4649" stroke="#4a4649" stroke-width="0.6"/>
<path d="M868,293 C880.5,305 880.5,339.5 868,351.5 C876.3,337.5 876.3,307 868,293 Z" fill="#4a4649" stroke="#4a4649" stroke-width="0.6"/>
<text x="640.5" y="331.2" font-family="Liberation Serif" font-size="26" fill="#4a4649" text-anchor="start" textLength="13" lengthAdjust="spacingAndGlyphs"  stroke="#4a4649" stroke-width="0.55">1</text>
<text x="662.8" y="331.8" font-family="Liberation Serif" font-size="26" fill="#4a4649" text-anchor="start" textLength="19" lengthAdjust="spacingAndGlyphs"  stroke="#4a4649" stroke-width="0.55">+</text>
<text x="772" y="331" font-family="Liberation Serif" font-size="26" fill="#4a4649" text-anchor="start" textLength="12.5" lengthAdjust="spacingAndGlyphs"  stroke="#4a4649" stroke-width="0.55">1</text>
<text x="794.5" y="331.6" font-family="Liberation Serif" font-size="26" fill="#4a4649" text-anchor="start" textLength="19" lengthAdjust="spacingAndGlyphs"  stroke="#4a4649" stroke-width="0.55">+</text>
<line x1="690" y1="322.2" x2="736.7" y2="322.2" stroke="#4a4649" stroke-width="1.8"/>
<line x1="821" y1="321.3" x2="867.7" y2="321.3" stroke="#4a4649" stroke-width="1.8"/>
<text x="706" y="313.4" font-family="Liberation Serif" font-size="28" fill="#4a4649" text-anchor="start" font-style="italic" stroke="#4a4649" stroke-width="0.55">s</text>
<text x="837" y="313.4" font-family="Liberation Serif" font-size="28" fill="#4a4649" text-anchor="start" font-style="italic" stroke="#4a4649" stroke-width="0.55">s</text>
<text x="692" y="344.6" font-family="Liberation Serif" font-size="27" fill="#4a4649" text-anchor="start" font-style="italic" stroke="#4a4649" stroke-width="0.55">&#969;</text>
<text x="709.5" y="348.3" font-family="Liberation Serif" font-size="20" fill="#4a4649" text-anchor="start" font-style="italic" stroke="#4a4649" stroke-width="0.55">p</text>
<text x="725" y="348.3" font-family="Liberation Serif" font-size="20" fill="#4a4649" text-anchor="start"  stroke="#4a4649" stroke-width="0.55">1</text>
<text x="823.5" y="344.6" font-family="Liberation Serif" font-size="27" fill="#4a4649" text-anchor="start" font-style="italic" stroke="#4a4649" stroke-width="0.55">&#969;</text>
<text x="841" y="348.3" font-family="Liberation Serif" font-size="20" fill="#4a4649" text-anchor="start" font-style="italic" stroke="#4a4649" stroke-width="0.55">p</text>
<text x="856.5" y="348.3" font-family="Liberation Serif" font-size="20" fill="#4a4649" text-anchor="start"  stroke="#4a4649" stroke-width="0.55">2</text>
<text x="647.5" y="408.7" font-family="Liberation Sans" font-size="20" fill="#4a4649" text-anchor="start" >&#969;</text>
<text x="662.5" y="412" font-family="Liberation Sans" font-size="15" fill="#4a4649" text-anchor="start" textLength="21.5" lengthAdjust="spacingAndGlyphs"  stroke="#4a4649" stroke-width="0.15">p1</text>
<text x="692" y="408.5" font-family="Liberation Sans" font-size="20" fill="#4a4649" text-anchor="start" textLength="13" lengthAdjust="spacingAndGlyphs" >&lt;</text>
<text x="714.8" y="408.7" font-family="Liberation Sans" font-size="20" fill="#4a4649" text-anchor="start" >&#969;</text>
<text x="729.8" y="412" font-family="Liberation Sans" font-size="15" fill="#4a4649" text-anchor="start" textLength="21" lengthAdjust="spacingAndGlyphs"  stroke="#4a4649" stroke-width="0.15">p2</text>
<text x="607" y="480.5" font-family="Liberation Serif" font-size="27" fill="#4a4649" text-anchor="start" textLength="12" lengthAdjust="spacingAndGlyphs"  stroke="#4a4649" stroke-width="0.55">1</text>
<line x1="593.3" y1="494.4" x2="631.1" y2="494.4" stroke="#4a4649" stroke-width="1.9"/>
<text x="596" y="523.5" font-family="Liberation Serif" font-size="26" fill="#4a4649" text-anchor="start" font-style="italic" stroke="#4a4649" stroke-width="0.55">&#969;</text>
<text x="612.5" y="527.5" font-family="Liberation Serif" font-size="18" fill="#4a4649" text-anchor="start" font-style="italic" stroke="#4a4649" stroke-width="0.55">H</text>
<line x1="641" y1="491.4" x2="659" y2="491.4" stroke="#4a4649" stroke-width="1.9"/>
<line x1="641" y1="498.6" x2="659" y2="498.6" stroke="#4a4649" stroke-width="1.9"/>
<path d="M667.5,525.5 L671.5,523 L681.8,544 L688.6,448.4 L819,448.4" fill="none" stroke="#4a4649" stroke-width="1.8" stroke-linejoin="miter"/>
<path d="M671.5,523 L681.8,544" fill="none" stroke="#4a4649" stroke-width="3"/>
<text x="709" y="480.3" font-family="Liberation Serif" font-size="27" fill="#4a4649" text-anchor="start" textLength="11.5" lengthAdjust="spacingAndGlyphs"  stroke="#4a4649" stroke-width="0.55">1</text>
<text x="789.5" y="480.3" font-family="Liberation Serif" font-size="27" fill="#4a4649" text-anchor="start" textLength="12" lengthAdjust="spacingAndGlyphs"  stroke="#4a4649" stroke-width="0.55">1</text>
<line x1="691" y1="494.2" x2="737.8" y2="494.2" stroke="#4a4649" stroke-width="1.9"/>
<line x1="771" y1="494.2" x2="818.9" y2="494.2" stroke="#4a4649" stroke-width="1.9"/>
<text x="744.5" y="503" font-family="Liberation Serif" font-size="27" fill="#4a4649" text-anchor="start" textLength="19.5" lengthAdjust="spacingAndGlyphs"  stroke="#4a4649" stroke-width="0.55">+</text>
<text x="693" y="523.5" font-family="Liberation Serif" font-size="27" fill="#4a4649" text-anchor="start" font-style="italic" stroke="#4a4649" stroke-width="0.55">&#969;</text>
<text x="712.5" y="512.3" font-family="Liberation Serif" font-size="17" fill="#4a4649" text-anchor="start"  stroke="#4a4649" stroke-width="0.55">2</text>
<text x="711" y="532" font-family="Liberation Serif" font-size="19" fill="#4a4649" text-anchor="start" font-style="italic" stroke="#4a4649" stroke-width="0.55">p</text>
<text x="725.5" y="531" font-family="Liberation Serif" font-size="18" fill="#4a4649" text-anchor="start"  stroke="#4a4649" stroke-width="0.55">1</text>
<text x="773.5" y="523.5" font-family="Liberation Serif" font-size="27" fill="#4a4649" text-anchor="start" font-style="italic" stroke="#4a4649" stroke-width="0.55">&#969;</text>
<text x="793" y="512.3" font-family="Liberation Serif" font-size="17" fill="#4a4649" text-anchor="start"  stroke="#4a4649" stroke-width="0.55">2</text>
<text x="791.5" y="532" font-family="Liberation Serif" font-size="19" fill="#4a4649" text-anchor="start" font-style="italic" stroke="#4a4649" stroke-width="0.55">p</text>
<text x="806" y="531" font-family="Liberation Serif" font-size="18" fill="#4a4649" text-anchor="start"  stroke="#4a4649" stroke-width="0.55">2</text>
</svg>
</body></html>
